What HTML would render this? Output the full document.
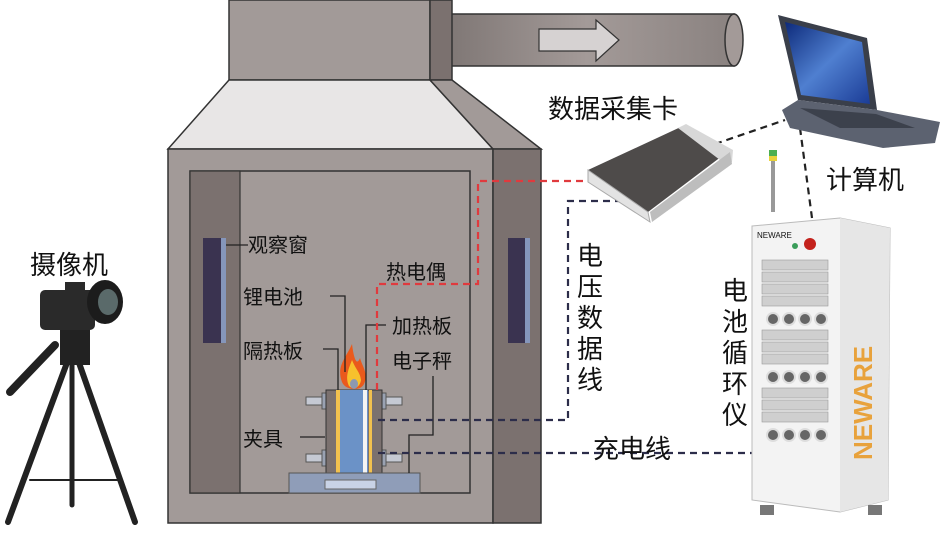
<!DOCTYPE html>
<html><head><meta charset="utf-8"><style>
body{margin:0;background:#fff}
svg{display:block}
text{font-family:"Liberation Sans","Noto Sans CJK SC",sans-serif;fill:#111}
</style></head><body>
<svg width="945" height="534" viewBox="0 0 945 534" xmlns="http://www.w3.org/2000/svg">
<defs>
<linearGradient id="pipe" x1="0" y1="0" x2="1" y2="0"><stop offset="0" stop-color="#7d7573"/><stop offset="0.5" stop-color="#a39a98"/><stop offset="1" stop-color="#8a8280"/></linearGradient>
<linearGradient id="scr" x1="0" y1="0" x2="1" y2="1"><stop offset="0" stop-color="#0d2a7a"/><stop offset="0.5" stop-color="#4f7fd0"/><stop offset="1" stop-color="#1b3c96"/></linearGradient>
</defs>
<!-- pipe -->
<rect x="440" y="14" width="294" height="52" fill="url(#pipe)" stroke="#333" stroke-width="1.5"/>
<ellipse cx="734" cy="40" rx="9" ry="26" fill="#a39a98" stroke="#333" stroke-width="1.5"/>
<polygon points="539,29 596,29 596,20 619,40 596,61 596,51 539,51" fill="#d6d2d2" stroke="#333" stroke-width="1.2"/>
<!-- top box -->
<rect x="229" y="0" width="201" height="80" fill="#a29a98" stroke="#333" stroke-width="1.5"/>
<rect x="430" y="0" width="22" height="80" fill="#7b716f" stroke="#333" stroke-width="1.5"/>
<!-- hood -->
<polygon points="229,80 430,80 493,149 168,149" fill="#e8e6e6" stroke="#333" stroke-width="1.5"/>
<polygon points="430,80 452,80 541,149 493,149" fill="#a29a98" stroke="#333" stroke-width="1.5"/>
<!-- front -->
<rect x="168" y="149" width="325" height="374" fill="#a29a98" stroke="#333" stroke-width="1.5"/>
<rect x="493" y="149" width="48" height="374" fill="#7b716f" stroke="#333" stroke-width="1.5"/>
<rect x="190" y="171" width="280" height="322" fill="#a29a98" stroke="#333" stroke-width="1.5"/>
<rect x="190" y="171" width="50" height="322" fill="#7b716f" stroke="#333" stroke-width="1.2"/>
<rect x="203" y="238" width="23" height="105" fill="#3a3350"/>
<rect x="221" y="238" width="5" height="105" fill="#8596bb"/>
<rect x="508" y="238" width="22" height="105" fill="#3a3350"/>
<rect x="525" y="238" width="5" height="105" fill="#8596bb"/>
<!-- fixture -->
<rect x="306" y="397" width="20" height="8" fill="#c5c9d3" stroke="#555"/>
<rect x="306" y="454" width="20" height="8" fill="#c5c9d3" stroke="#555"/>
<rect x="382" y="397" width="20" height="8" fill="#c5c9d3" stroke="#555"/>
<rect x="382" y="454" width="20" height="8" fill="#c5c9d3" stroke="#555"/>
<rect x="322" y="393" width="6" height="16" fill="#9aa2b2" stroke="#555"/>
<rect x="322" y="450" width="6" height="16" fill="#9aa2b2" stroke="#555"/>
<rect x="380" y="393" width="6" height="16" fill="#9aa2b2" stroke="#555"/>
<rect x="380" y="450" width="6" height="16" fill="#9aa2b2" stroke="#555"/>
<rect x="326" y="390" width="56" height="83" fill="#7b716f" stroke="#333"/>
<rect x="336" y="390" width="32" height="83" fill="#6b92c7"/>
<rect x="336" y="390" width="4" height="83" fill="#f2c14e"/>
<rect x="363" y="390" width="4" height="83" fill="#f4f4f4"/>
<rect x="369" y="390" width="3" height="83" fill="#f2c14e"/>
<rect x="289" y="473" width="131" height="20" fill="#8f9db8" stroke="#555"/>
<rect x="325" y="480" width="51" height="9" fill="#c9d3e6" stroke="#666"/>
<!-- flame -->
<path d="M352,344 C346,358 336,366 342,382 C345,390 360,392 364,384 C369,374 362,366 360,358 C357,366 354,360 352,344Z" fill="#ea5a1c"/>
<path d="M352,360 C348,370 345,378 349,386 C353,390 360,388 361,380 C360,372 356,370 352,360Z" fill="#f7c12d"/>
<ellipse cx="354" cy="384" rx="4" ry="5" fill="#8c98b0"/>
<!-- leader lines -->
<g stroke="#222" stroke-width="1.3" fill="none">
<path d="M226,245 H248"/>
<path d="M330,296 H345 V372"/>
<path d="M323,349 H338 V390"/>
<path d="M386,325 H366 V390"/>
<path d="M433,376 V435 H409 V473"/>
<path d="M300,437 H325"/>
</g>
<!-- dashed lines -->
<path d="M377,390 V284 H478 V181 H598" stroke="#e03a3e" stroke-width="2.2" fill="none" stroke-dasharray="7,5"/>
<path d="M378,420 H568 V201 H633" stroke="#2c2d4a" stroke-width="2.2" fill="none" stroke-dasharray="7,5"/>
<path d="M378,453 H755" stroke="#2c2d4a" stroke-width="2.2" fill="none" stroke-dasharray="7,5"/>
<path d="M715,144 L785,120" stroke="#222" stroke-width="2.2" fill="none" stroke-dasharray="7,5"/>
<path d="M800,128 L812,218" stroke="#222" stroke-width="2.2" fill="none" stroke-dasharray="7,5"/>
<!-- DAQ -->
<polygon points="588,170 685,125 730,150 648,212" fill="#4e4b4a"/>
<polygon points="588,170 648,212 650,222 588,182" fill="#e3e3e3" stroke="#aaa"/>
<polygon points="678,128 686,124 733,150 732,162 720,160" fill="#d8d8d8"/>
<polygon points="650,212 730,152 732,164 652,222" fill="#bdbdbd"/>
<!-- laptop -->
<polygon points="778,15 867,38 877,110 798,100" fill="#3a3f4a"/>
<polygon points="785,22 862,42 870,104 801,95" fill="url(#scr)"/>
<polygon points="782,110 798,100 877,110 940,122 935,143 883,148 790,128" fill="#5c6270"/>
<polygon points="800,108 876,114 915,128 840,128" fill="#3c414c"/>
<!-- cabinet -->
<rect x="771" y="152" width="4" height="60" fill="#999"/>
<rect x="769" y="150" width="8" height="10" fill="#4caf50"/>
<rect x="769" y="156" width="8" height="5" fill="#e8d23a"/>
<polygon points="752,226 840,218 890,228 888,500 840,512 752,500" fill="#f3f3f3" stroke="#bbb"/>
<polygon points="840,218 890,228 888,500 840,512" fill="#e6e6e6"/>
<text x="757" y="238" font-size="8" fill="#e4a040">NEWARE</text>
<circle cx="810" cy="244" r="6" fill="#c4221c"/>
<circle cx="795" cy="246" r="3" fill="#3a9d5a"/>
<g fill="#cfcfcf" stroke="#999" stroke-width="0.6">
<rect x="762" y="260" width="66" height="10"/><rect x="762" y="272" width="66" height="10"/><rect x="762" y="284" width="66" height="10"/><rect x="762" y="296" width="66" height="10"/>
<rect x="762" y="330" width="66" height="10"/><rect x="762" y="342" width="66" height="10"/><rect x="762" y="354" width="66" height="10"/>
<rect x="762" y="388" width="66" height="10"/><rect x="762" y="400" width="66" height="10"/><rect x="762" y="412" width="66" height="10"/>
</g>
<g fill="#666" stroke="#ddd" stroke-width="2">
<circle cx="773" cy="319" r="6"/><circle cx="789" cy="319" r="6"/><circle cx="805" cy="319" r="6"/><circle cx="821" cy="319" r="6"/>
<circle cx="773" cy="377" r="6"/><circle cx="789" cy="377" r="6"/><circle cx="805" cy="377" r="6"/><circle cx="821" cy="377" r="6"/>
<circle cx="773" cy="435" r="6"/><circle cx="789" cy="435" r="6"/><circle cx="805" cy="435" r="6"/><circle cx="821" cy="435" r="6"/>
</g>
<text transform="translate(872,460) rotate(-90)" font-size="26" fill="#e8a23c" style="fill:#e8a23c;font-weight:bold">NEWARE</text>
<rect x="760" y="505" width="14" height="10" fill="#777"/><rect x="868" y="505" width="14" height="10" fill="#777"/>
<!-- camera/tripod -->
<g stroke="#222" stroke-linecap="round" fill="none">
<path d="M68,360 L8,522" stroke-width="6"/>
<path d="M78,360 L135,522" stroke-width="6"/>
<path d="M72,360 L72,505" stroke-width="5"/>
<path d="M30,480 H120" stroke-width="2"/>
<path d="M55,345 L10,392" stroke-width="8"/>
</g>
<rect x="60" y="330" width="30" height="35" fill="#222"/>
<rect x="40" y="290" width="55" height="40" rx="5" fill="#2a2a2a"/>
<rect x="65" y="282" width="20" height="10" fill="#2a2a2a"/>
<ellipse cx="105" cy="302" rx="18" ry="22" fill="#1c1c1c"/>
<ellipse cx="108" cy="302" rx="10" ry="13" fill="#5a6a6a"/>
<!-- labels -->
<g font-size="20">
<text x="248" y="252">观察窗</text>
<text x="386" y="279">热电偶</text>
<text x="243" y="304">锂电池</text>
<text x="243" y="358">隔热板</text>
<text x="392" y="333">加热板</text>
<text x="392" y="368">电子秤</text>
<text x="243" y="446">夹具</text>
</g>
<g font-size="26">
<text x="548" y="118">数据采集卡</text>
<text x="826" y="189">计算机</text>
<text x="30" y="274">摄像机</text>
<text x="593" y="458">充电线</text>
<text x="577" y="265">电</text><text x="577" y="296">压</text><text x="577" y="327">数</text><text x="577" y="358">据</text><text x="577" y="389">线</text>
<text x="722" y="300">电</text><text x="722" y="331">池</text><text x="722" y="362">循</text><text x="722" y="393">环</text><text x="722" y="424">仪</text>
</g>
</svg>
</body></html>
